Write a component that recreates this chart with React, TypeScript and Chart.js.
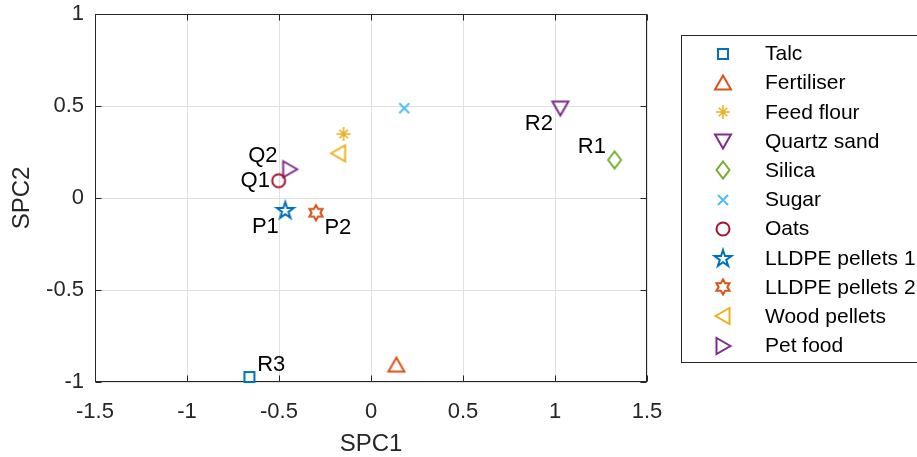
import React, { useEffect, useRef } from 'react';
import { Chart, registerables } from 'chart.js';

Chart.register(...registerables);

// ---------------- data ----------------
const seriesNames = [
  'Talc',
  'Fertiliser',
  'Feed flour',
  'Quartz sand',
  'Silica',
  'Sugar',
  'Oats',
  'LLDPE pellets 1',
  'LLDPE pellets 2',
  'Wood pellets',
  'Pet food',
];
const spc1Values = [-0.661, 0.138, -0.149, 1.029, 1.324, 0.181, -0.502, -0.466, -0.299, -0.176, -0.442];
const spc2Values = [-0.973, -0.908, 0.348, 0.489, 0.207, 0.488, 0.094, -0.065, -0.08, 0.243, 0.156];
const seriesColors = [
  '#0072BD',
  '#D95319',
  '#EDB120',
  '#7E2F8E',
  '#77AC30',
  '#4DBEEE',
  '#A2142F',
  '#0072BD',
  '#D95319',
  '#EDB120',
  '#7E2F8E',
];
const seriesMarkers = [
  'square',
  'triangleUp',
  'asterisk',
  'triangleDown',
  'diamond',
  'cross',
  'circle',
  'pentagram',
  'hexagram',
  'triangleLeft',
  'triangleRight',
];

const annotationTexts = ['Q2', 'Q1', 'P1', 'P2', 'R2', 'R1', 'R3'];
const annotationX = [-0.588, -0.629, -0.574, -0.18, 0.912, 1.2, -0.542];
const annotationY = [0.228, 0.092, -0.158, -0.163, 0.402, 0.277, -0.908];

const xTickValues = [-1.5, -1, -0.5, 0, 0.5, 1, 1.5];
const xTickLabels = ['-1.5', '-1', '-0.5', '0', '0.5', '1', '1.5'];
const yTickValues = [-1, -0.5, 0, 0.5, 1];
const yTickLabels = ['-1', '-0.5', '0', '0.5', '1'];

const xAxisTitle = 'SPC1';
const yAxisTitle = 'SPC2';

// ---------------- styles ----------------
const FONT = '"Liberation Sans", Arial, Helvetica, sans-serif';
const AXIS_COLOR = '#262626';
const GRID_COLOR = '#e0e0e0';

function makeMarker(kind: string, color: string): HTMLCanvasElement {
  const S = 28;
  const c = document.createElement('canvas');
  c.width = S;
  c.height = S;
  const g = c.getContext('2d')!;
  g.translate(S / 2, S / 2);
  g.strokeStyle = color;
  g.lineWidth = 2;
  g.lineJoin = 'miter';
  g.miterLimit = 10;
  g.beginPath();
  const poly = (pts: number[][]) => {
    pts.forEach(([x, y], i) => (i ? g.lineTo(x, y) : g.moveTo(x, y)));
    g.closePath();
  };
  switch (kind) {
    case 'square':
      poly([[-5, -5], [5, -5], [5, 5], [-5, 5]]);
      break;
    case 'triangleUp':
      poly([[0, -7.5], [8, 6.5], [-8, 6.5]]);
      break;
    case 'triangleDown':
      poly([[0, 7.5], [8, -6.5], [-8, -6.5]]);
      break;
    case 'triangleLeft':
      poly([[-7.5, 0], [6.5, -8], [6.5, 8]]);
      break;
    case 'triangleRight':
      poly([[7.5, 0], [-6.5, -8], [-6.5, 8]]);
      break;
    case 'diamond':
      poly([[0, -8.5], [6.5, 0], [0, 8.5], [-6.5, 0]]);
      break;
    case 'circle':
      g.arc(0, 0, 6.5, 0, Math.PI * 2);
      break;
    case 'cross':
      g.moveTo(-5, -5);
      g.lineTo(5, 5);
      g.moveTo(5, -5);
      g.lineTo(-5, 5);
      break;
    case 'asterisk': {
      g.lineWidth = 1.6;
      for (let k = 0; k < 4; k++) {
        const a = (k * Math.PI) / 4;
        const r = k % 2 === 0 ? 7 : 6;
        g.moveTo(-Math.cos(a) * r, -Math.sin(a) * r);
        g.lineTo(Math.cos(a) * r, Math.sin(a) * r);
      }
      break;
    }
    case 'pentagram': {
      const R = 8.8;
      const r = R * 0.382;
      const pts: number[][] = [];
      for (let k = 0; k < 10; k++) {
        const a = -Math.PI / 2 + (k * Math.PI) / 5;
        const rr = k % 2 === 0 ? R : r;
        pts.push([Math.cos(a) * rr, Math.sin(a) * rr + 0.8]);
      }
      poly(pts);
      break;
    }
    case 'hexagram': {
      const R = 7.6;
      const r = R / Math.sqrt(3);
      const pts: number[][] = [];
      for (let k = 0; k < 12; k++) {
        const a = -Math.PI / 2 + (k * Math.PI) / 6;
        const rr = k % 2 === 0 ? R : r;
        pts.push([Math.cos(a) * rr, Math.sin(a) * rr]);
      }
      poly(pts);
      break;
    }
  }
  g.stroke();
  return c;
}

export default function App() {
  const ref = useRef<HTMLCanvasElement | null>(null);

  useEffect(() => {
    if (!ref.current) return;
    const markerImgs = seriesNames.map((_, i) => makeMarker(seriesMarkers[i], seriesColors[i]));

    const framePlugin = {
      id: 'frame',
      beforeDatasetsDraw(chart: any) {
        const { ctx, chartArea } = chart;
        const xs = chart.scales.x;
        const ys = chart.scales.y;
        const L = Math.round(chartArea.left) + 0.5;
        const R = Math.round(chartArea.right) - 0.5;
        const T = Math.round(chartArea.top) + 0.5;
        const B = Math.round(chartArea.bottom) - 0.5;
        ctx.save();
        ctx.strokeStyle = AXIS_COLOR;
        ctx.lineWidth = 1;
        ctx.strokeRect(L, T, R - L, B - T);
        const tl = 6;
        ctx.beginPath();
        xTickValues.forEach((v) => {
          const px = Math.round(xs.getPixelForValue(v)) + 0.5;
          ctx.moveTo(px, B);
          ctx.lineTo(px, B - tl);
          ctx.moveTo(px, T);
          ctx.lineTo(px, T + tl);
        });
        yTickValues.forEach((v) => {
          const py = Math.round(ys.getPixelForValue(v)) + 0.5;
          ctx.moveTo(L, py);
          ctx.lineTo(L + tl, py);
          ctx.moveTo(R, py);
          ctx.lineTo(R - tl, py);
        });
        ctx.stroke();
        ctx.restore();
      },
      afterDraw(chart: any) {
        const { ctx } = chart;
        const xs = chart.scales.x;
        const ys = chart.scales.y;
        ctx.save();
        // annotations
        ctx.fillStyle = '#000';
        ctx.font = `22px ${FONT}`;
        ctx.textAlign = 'center';
        ctx.textBaseline = 'middle';
        annotationTexts.forEach((t, i) => {
          ctx.fillText(t, xs.getPixelForValue(annotationX[i]), ys.getPixelForValue(annotationY[i]));
        });
        // legend
        const boxL = 681.5;
        const boxT = 35.5;
        const boxB = 362.5;
        ctx.fillStyle = '#fff';
        ctx.fillRect(boxL, boxT, 260, boxB - boxT);
        ctx.strokeStyle = AXIS_COLOR;
        ctx.lineWidth = 1;
        ctx.strokeRect(boxL, boxT, 260, boxB - boxT);
        ctx.font = `21px ${FONT}`;
        ctx.textAlign = 'left';
        ctx.fillStyle = '#000';
        const step = 29.2;
        seriesNames.forEach((name, i) => {
          const cy = 53.5 + i * step;
          const img = markerImgs[i];
          ctx.drawImage(img, Math.round(723 - img.width / 2), Math.round(cy - img.height / 2));
          ctx.fillText(name, 765, cy + 1);
        });
        ctx.restore();
      },
    };

    const chart = new Chart(ref.current, {
      type: 'scatter',
      data: {
        datasets: seriesNames.map((name, i) => ({
          label: name,
          data: [{ x: spc1Values[i], y: spc2Values[i] }],
          pointStyle: markerImgs[i] as any,
          pointRadius: 10,
          borderColor: seriesColors[i],
          backgroundColor: 'transparent',
          clip: false as any,
        })),
      },
      options: {
        animation: false,
        responsive: false,
        maintainAspectRatio: false,
        events: [],
        layout: { padding: { left: 0, top: 14, right: 270, bottom: 0 } },
        plugins: {
          legend: { display: false },
          tooltip: { enabled: false },
        },
        scales: {
          x: {
            type: 'linear',
            min: -1.5,
            max: 1.5,
            afterBuildTicks: (s: any) => {
              s.ticks = xTickValues.map((v) => ({ value: v }));
            },
            afterFit: (s: any) => {
              s.height = 75;
              s.paddingLeft = 0;
              s.paddingRight = 0;
              s.paddingTop = 0;
              s.paddingBottom = 0;
            },
            ticks: {
              autoSkip: false,
              maxRotation: 0,
              padding: 17,
              color: AXIS_COLOR,
              font: { size: 22, family: FONT },
              callback: (_v: any, idx: number) => xTickLabels[idx],
            },
            grid: { color: GRID_COLOR, drawTicks: false, lineWidth: 1 },
            border: { display: false },
            title: {
              display: true,
              text: xAxisTitle,
              color: AXIS_COLOR,
              font: { size: 24, family: FONT },
              padding: { top: 0, bottom: -2 },
            },
          },
          y: {
            type: 'linear',
            min: -1,
            max: 1,
            afterBuildTicks: (s: any) => {
              s.ticks = yTickValues.map((v) => ({ value: v }));
            },
            afterFit: (s: any) => {
              s.width = 95;
              s.paddingLeft = 0;
              s.paddingRight = 0;
              s.paddingTop = 0;
              s.paddingBottom = 0;
            },
            ticks: {
              autoSkip: false,
              padding: 11,
              color: AXIS_COLOR,
              font: { size: 22, family: FONT },
              callback: (_v: any, idx: number) => yTickLabels[idx],
            },
            grid: { color: GRID_COLOR, drawTicks: false, lineWidth: 1 },
            border: { display: false },
            title: {
              display: true,
              text: yAxisTitle,
              color: AXIS_COLOR,
              font: { size: 24, family: FONT },
              padding: { top: 8, bottom: 0 },
            },
          },
        },
      },
      plugins: [framePlugin],
    });

    return () => chart.destroy();
  }, []);

  return (
    <div style={{ position: 'fixed', left: 0, top: 0, width: 917, height: 457, background: '#fff' }}>
      <canvas ref={ref} width={917} height={457} style={{ display: 'block', width: 917, height: 457 }} />
    </div>
  );
}
